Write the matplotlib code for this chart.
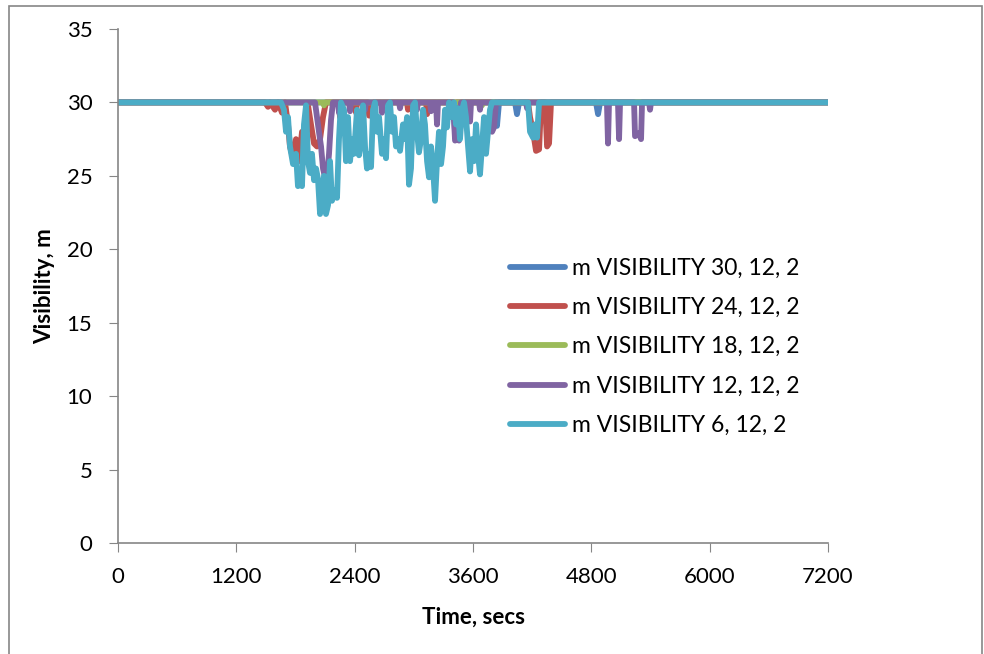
import matplotlib
matplotlib.use("Agg")
import matplotlib.pyplot as plt
from matplotlib.patches import Rectangle

plt.rcParams['font.family'] = ['Lato', 'DejaVu Sans']

# series: time (s) and visibility (m)
t_30 = [0, 3398, 3418, 3438, 3823, 3843, 3864, 4026, 4046, 4067, 4847, 4868, 4888, 7200]
v_30 = [30, 30, 28.0, 30, 30, 28.4, 30, 30, 29.2, 30, 30, 29.2, 30, 30]

t_24 = [0, 1491, 1521, 1541, 1592, 1623, 1663, 1694, 1724, 1744, 1775, 1805, 1836, 1866,
        1896, 1927, 1957, 1988, 2018, 2049, 2079, 2109, 2241, 2251, 2261, 2403, 2414, 2424,
        2535, 2546, 2586, 2596, 2930, 2941, 2951, 3124, 3134, 3144, 4158, 4178, 4209, 4239,
        4270, 4290, 4331, 4351, 4371, 4391, 7200]
v_24 = [30, 30, 29.7, 30, 29.5, 30, 29.3, 30, 28.5, 27.0, 26.2, 27.5, 26.0, 28.0,
        26.5, 29.8, 28.5, 27.2, 27.0, 27.5, 29.0, 30, 30, 29.0, 30, 30, 29.3, 30,
        30, 29.1, 29.1, 30, 30, 29.5, 30, 30, 29.2, 30, 30, 29.0, 28.0, 26.7,
        26.8, 30, 30, 27.0, 27.2, 30, 30]

t_18 = [0, 2079, 2089, 2099, 3681, 3691, 3701, 7200]
v_18 = [30, 30, 29.8, 30, 30, 29.8, 30, 30]

t_12 = [0, 1998, 2018, 2038, 2059, 2079, 2099, 2119, 2140, 2160, 2180, 2231, 2241, 2251,
        2343, 2353, 2363, 2495, 2505, 2515, 2667, 2677, 2687, 2850, 2860, 2870, 3022, 3032,
        3042, 3164, 3174, 3184, 3225, 3235, 3245, 3398, 3418, 3438, 3458, 3478, 3560, 3570,
        3580, 3661, 3671, 3681, 3783, 3793, 3813, 3833, 4138, 4148, 4158, 4958, 4969, 4979,
        5070, 5081, 5091, 5233, 5243, 5284, 5304, 5314, 5385, 5395, 5405, 7200]
v_12 = [30, 30, 29.0, 28.0, 27.0, 25.5, 24.9, 24.9, 26.5, 28.8, 30, 30, 29.3, 30,
        30, 29.4, 30, 30, 29.5, 30, 30, 29.3, 30, 30, 29.6, 30, 30, 29.5,
        30, 30, 29.4, 30, 30, 28.5, 30, 30, 27.4, 27.6, 27.4, 30, 30, 28.7,
        30, 30, 29.5, 30, 30, 28.0, 28.3, 30, 30, 29.6, 30, 30, 27.2, 30,
        30, 27.5, 30, 30, 27.7, 27.9, 27.5, 30, 30, 29.5, 30, 30]

t_6 = [0, 1653, 1683, 1704, 1724, 1744, 1775, 1805, 1825, 1846, 1866, 1886, 1907, 1927,
       1947, 1967, 1988, 2008, 2028, 2049, 2069, 2089, 2109, 2130, 2150, 2170, 2201, 2221,
       2241, 2261, 2292, 2312, 2332, 2353, 2373, 2393, 2424, 2444, 2464, 2485, 2505, 2525,
       2546, 2566, 2586, 2606, 2627, 2647, 2677, 2698, 2718, 2738, 2758, 2779, 2799, 2819,
       2840, 2860, 2890, 2910, 2931, 2951, 2971, 2992, 3012, 3032, 3052, 3073, 3093, 3113,
       3134, 3154, 3174, 3195, 3215, 3235, 3255, 3276, 3296, 3316, 3336, 3357, 3387, 3407,
       3428, 3448, 3468, 3489, 3509, 3529, 3550, 3570, 3590, 3610, 3631, 3651, 3671, 3691,
       3712, 3732, 3752, 3772, 3793, 4158, 4178, 4209, 4229, 4249, 4270, 7200]
v_6 = [30, 30, 29.5, 28.0, 29.0, 27.0, 25.8, 26.5, 24.3, 25.0, 24.3, 28.5, 29.8, 26.0,
       25.2, 26.5, 24.7, 25.5, 24.8, 22.4, 23.5, 25.0, 22.4, 23.0, 26.0, 23.3, 24.0, 23.5,
       27.5, 30, 29.5, 26.0, 29.0, 26.0, 27.5, 26.5, 29.5, 26.4, 27.5, 29.8, 27.0, 25.5,
       26.5, 25.6, 29.5, 30, 28.0, 29.0, 26.5, 27.5, 26.2, 29.8, 30, 28.0, 29.0, 27.0,
       27.5, 26.7, 28.5, 27.5, 29.0, 24.4, 25.5, 29.8, 30, 28.0, 26.6, 27.5, 29.5, 28.5,
       26.0, 24.9, 27.0, 25.5, 23.3, 26.0, 28.0, 25.8, 27.0, 29.5, 28.3, 30, 29.0, 30,
       28.5, 29.6, 27.5, 29.5, 30, 29.0, 27.0, 25.3, 27.5, 26.0, 28.5, 26.5, 25.1, 27.0,
       29.0, 26.5, 28.0, 29.5, 30, 30, 28.0, 27.6, 28.5, 27.6, 30, 30]

labels = ['m VISIBILITY 30, 12, 2', 'm VISIBILITY 24, 12, 2', 'm VISIBILITY 18, 12, 2',
          'm VISIBILITY 12, 12, 2', 'm VISIBILITY 6, 12, 2']
colors = ['#4F81BD', '#C0504D', '#9BBB59', '#8064A2', '#4BACC6']

fig = plt.figure(figsize=(9.84, 6.54), dpi=100)
ax = fig.add_axes([0.1199, 0.1697, 0.7216, 0.786])

# chart area border
fig.patches.append(Rectangle((0.009, -0.05), 0.989, 1.041, transform=fig.transFigure,
                             fill=False, edgecolor='#868686', linewidth=1.2))

for tt, vv, c, lab in zip([t_30, t_24, t_18, t_12, t_6], [v_30, v_24, v_18, v_12, v_6], colors, labels):
    ax.plot(tt, vv, color=c, linewidth=4.2, solid_capstyle='round',
            solid_joinstyle='round', label=lab)

ax.set_xlim(0, 7200)
ax.set_ylim(0, 35)
ax.set_xticks(range(0, 7201, 1200))
ax.set_yticks(range(0, 36, 5))
for s in ['top', 'right']:
    ax.spines[s].set_visible(False)
for s in ['left', 'bottom']:
    ax.spines[s].set_color('#868686')
    ax.spines[s].set_linewidth(1.2)
ax.tick_params(direction='out', length=6.5, color='#868686', labelsize=16, pad=12)
ax.tick_params(axis='x', pad=11)

ax.set_xlabel('Time, secs', fontsize=16, fontweight='bold', labelpad=14)
ax.set_ylabel('Visibility, m', fontsize=16, fontweight='bold', labelpad=8)

ax.legend(loc='upper left', bbox_to_anchor=(0.518, 0.606), bbox_transform=fig.transFigure,
          frameon=False, fontsize=16.5, handlelength=2.4, handletextpad=0.3,
          labelspacing=0.8, borderpad=0, borderaxespad=0)

fig.savefig('out.png', dpi=100)
